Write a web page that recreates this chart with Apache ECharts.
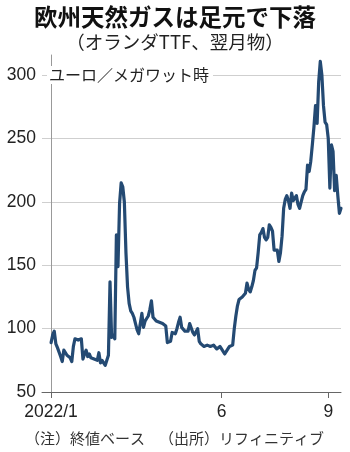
<!DOCTYPE html>
<html>
<head>
<meta charset="utf-8">
<script src="https://cdn.jsdelivr.net/npm/echarts@6/dist/echarts.min.js"></script>
<style>
html,body{margin:0;padding:0;background:#fff;}
#c{width:350px;height:452px;}
</style>
</head>
<body>
<div id="c"></div>
<script>
// Trading-day index (0 = 2022/1/3) and TTF front-month close (EUR/MWh)
const values = [
  89,95,98,88,85,86,78,74,83,82,
  79,80,77,74,86,92,92,91,92,92,
  76,80,83,78,80,77,78,76,77,75,
  81,73,75,73,71,75,79,137,93,95,
  92,174,149,199,215,212,200,160,133,120,
  114,112,109,104,99,96,104,112,101,106,
  108,110,115,122,109,108,106,106,105,105,
  104,104,102,89,89,90,97,97,96,100,
  105,109,101,100,98,98,98,104,105,97,
  95,94,100,90,88,87,86,87,87,87,
  86,86,87,86,84,85,86,84,83,80,
  82,83,86,87,87,100,110,118,123,124,
  125,126,128,136,131,129,133,138,146,148,
  160,174,176,179,172,170,172,182,180,177,
  162,161,162,153,160,173,195,202,205,201,
  195,207,201,203,205,198,195,200,205,208,
  210,229,224,232,245,259,276,262,295,311,
  300,276,263,261,250,211,245,240,209,221,
  205,191,195
];
const tickPositions = [0, 107, 174];
const tickLabels = ['2022/1', '6', '9'];
const yTicks = [50, 100, 150, 200, 250, 300];

const title = '欧州天然ガスは足元で下落';
const subtitle = '（オランダTTF、翌月物）';
const unit = 'ユーロ／メガワット時';
const note1 = '（注）終値ベース';
const note2 = '（出所）リフィニティブ';

const seriesData = values.map((v, i) => [i, v]);
const cjk = "'Noto Sans CJK JP', 'Noto Sans', sans-serif";
const num = "'Liberation Sans', Arial, sans-serif";

const chart = echarts.init(document.getElementById('c'), null, {renderer: 'canvas'});
chart.setOption({
  animation: false,
  backgroundColor: '#fff',
  grid: {left: 42, right: 9, top: 55, bottom: 60, containLabel: false},
  xAxis: {
    type: 'value',
    min: -5.7,
    max: 182,
    axisLine: {show: true, lineStyle: {color: '#666', width: 1}},
    axisTick: {show: true, customValues: tickPositions, length: 6, lineStyle: {color: '#666'}},
    axisLabel: {
      show: true,
      customValues: tickPositions,
      formatter: function (v) { const k = tickPositions.indexOf(Math.round(v)); return k >= 0 ? tickLabels[k] : ''; },
      color: '#222', fontSize: 17.5, fontFamily: num, margin: 11
    },
    splitLine: {show: false}
  },
  yAxis: {
    type: 'value',
    min: 50,
    max: 316,
    interval: 50,
    axisLine: {show: true, lineStyle: {color: '#999', width: 1}},
    axisTick: {show: false},
    axisLabel: {
      color: '#222', fontSize: 17.5, fontFamily: num, margin: 6,
      showMaxLabel: false,
      formatter: function (v) { return yTicks.indexOf(v) >= 0 ? String(v) : ''; }
    },
    splitLine: {show: true, showMaxLine: false, showMinLine: false, lineStyle: {color: '#cfcfcf', width: 1}}
  },
  series: [{
    type: 'line',
    data: seriesData,
    showSymbol: false,
    symbol: 'none',
    lineStyle: {color: '#244a73', width: 3.2, join: 'round', cap: 'round'},
    clip: false,
    z: 5
  }],
  graphic: [
    {type: 'text', left: 'center', top: 5, style: {text: title, font: 'bold 23.5px ' + cjk, fill: '#111'}},
    {type: 'text', left: 'center', top: 33, style: {text: subtitle, font: '18.5px ' + cjk, fill: '#222'}},
    {type: 'text', x: 47, y: 75, z: 10, style: {text: unit, font: '16px ' + cjk, fill: '#222', verticalAlign: 'middle', backgroundColor: '#fff', padding: [1, 4, 1, 2]}},
    {type: 'text', x: 25, y: 438, style: {text: note1, font: '15px ' + cjk, fill: '#333', verticalAlign: 'middle'}},
    {type: 'text', x: 159, y: 438, style: {text: note2, font: '15px ' + cjk, fill: '#333', verticalAlign: 'middle'}}
  ]
});
</script>
</body>
</html>
